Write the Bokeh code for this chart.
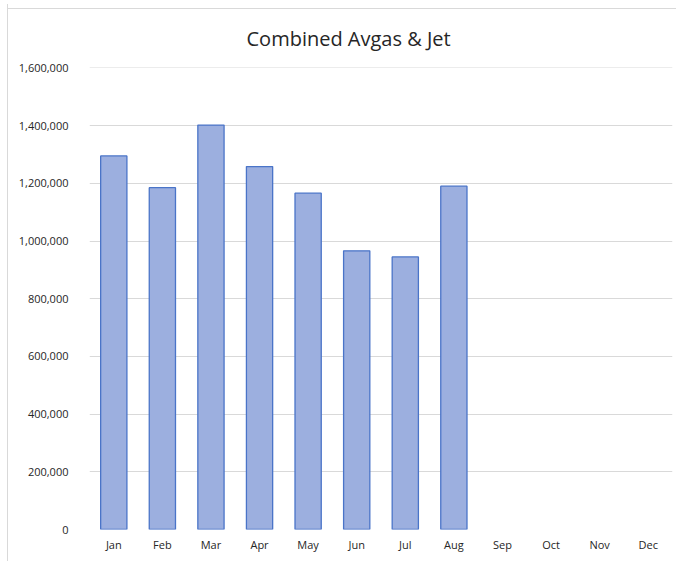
from bokeh.plotting import figure
from bokeh.models import ColumnDataSource, NumeralTickFormatter, FixedTicker, Range1d
from bokeh.embed import file_html
from bokeh.resources import INLINE

months = ["Jan", "Feb", "Mar", "Apr", "May", "Jun", "Jul", "Aug", "Sep", "Oct", "Nov", "Dec"]
values = [1295000, 1185000, 1402000, 1258000, 1166000, 966000, 945000, 1190000, None, None, None, None]
y_ticks = [0, 200000, 400000, 600000, 800000, 1000000, 1200000, 1400000, 1600000]

src = ColumnDataSource(dict(
    month=months[:8], value=values[:8]
))

p = figure(x_range=months, y_range=Range1d(0, 1601500), width=669, height=557,
           output_backend="svg", toolbar_location=None,
           title="Combined Avgas & Jet",
           min_border_left=81, min_border_right=5, min_border_top=63, min_border_bottom=32)

p.title.align = "left"
p.title.text_font = "Open Sans"
p.title.text_font_size = "20px"
p.title.text_font_style = "normal"
p.title.text_color = "#262626"
p.title.offset = 157
p.title.standoff = 32

p.vbar(x="month", top="value", width=0.54, source=src,
       fill_color="#9CAFDF", line_color="#4A74C8", line_width=1.3)

p.yaxis.ticker = FixedTicker(ticks=y_ticks)
p.yaxis.formatter = NumeralTickFormatter(format="0,0")
for ax in (p.xaxis, p.yaxis):
    ax.axis_line_color = None
    ax.major_tick_line_color = None
    ax.minor_tick_line_color = None
    ax.major_label_text_font = "Open Sans"
    ax.major_label_text_font_size = "11px"
    ax.major_label_text_color = "#262626"
p.yaxis.major_label_standoff = 15
p.xaxis.major_label_standoff = 1

p.xgrid.grid_line_color = None
p.ygrid.grid_line_color = "#D9D9D9"
p.ygrid.grid_line_width = 1
p.x_range.range_padding = 0

p.outline_line_color = None
p.border_fill_color = None
p.background_fill_color = "white"

p.styles = {"margin-left": "7px", "margin-top": "4px",
            "border-left": "1px solid #D9D9D9",
            "background": "linear-gradient(#D9D9D9, #D9D9D9) no-repeat 0 4px / 100% 1px"}

open("out.html", "w").write(file_html(p, INLINE))
